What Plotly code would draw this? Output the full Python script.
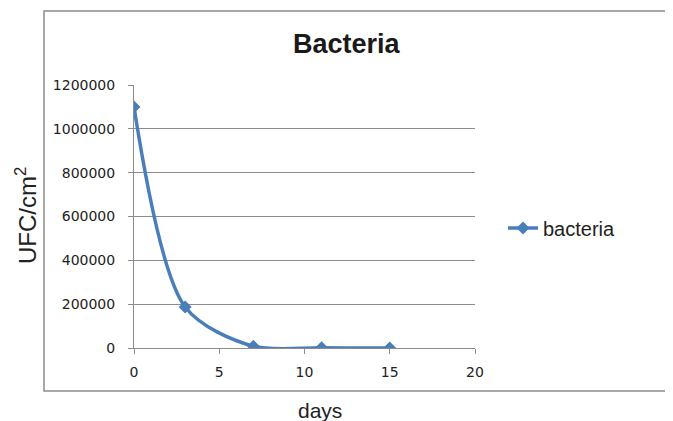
import plotly.graph_objects as go

days = [0, 3, 7, 11, 15]
bacteria = [1100000, 187000, 8000, 1000, 500]
y_ticks = [0, 200000, 400000, 600000, 800000, 1000000, 1200000]
x_ticks = [0, 5, 10, 15, 20]

# page is offset by the default 8px body margin
OFF = 8
W, H = 673 - OFF, 421 - OFF
L, R, T, B = 134, 475, 85, 348   # plot area in page pixels
pw, ph = R - L, B - T

def px(xp):
    return (xp - L) / pw

def py(yp):
    return (B - yp) / ph

FONT = "DejaVu Sans, Liberation Sans, sans-serif"
TXT = "#222"
GRID = "#8c8c8c"

fig = go.Figure()
fig.add_trace(go.Scatter(
    x=days, y=bacteria, name="bacteria", mode="lines+markers",
    line=dict(color="#4a7ebb", width=3.5, shape="spline", smoothing=0.85),
    marker=dict(symbol="diamond", size=10, color="#4a7ebb"),
))

fig.update_layout(
    width=W, height=H,
    margin=dict(l=L - OFF, r=W - (R - OFF), t=T - OFF, b=H - (B - OFF), pad=0),
    paper_bgcolor="white", plot_bgcolor="white",
    font=dict(family=FONT, color=TXT, size=14),
    showlegend=True,
    legend=dict(x=px(503), y=py(228), xanchor="left", yanchor="middle",
                font=dict(family="Liberation Sans, Arial, sans-serif", size=20, color=TXT),
                bgcolor="rgba(0,0,0,0)"),
    annotations=[
        dict(text="<b>Bacteria</b>", x=px(347), y=py(44), xref="paper", yref="paper",
             showarrow=False, font=dict(family="Liberation Sans, Arial, sans-serif", size=27, color="#1a1a1a"),
             xanchor="center", yanchor="middle"),
        dict(text="UFC/cm<sup>2</sup>", x=px(26), y=py(216), xref="paper", yref="paper",
             showarrow=False, textangle=-90,
             font=dict(family="Liberation Sans, Arial, sans-serif", size=24, color=TXT),
             xanchor="center", yanchor="middle"),
        dict(text="days", x=px(320), y=py(410), xref="paper", yref="paper",
             showarrow=False, font=dict(family="Liberation Sans, Arial, sans-serif", size=21, color=TXT),
             xanchor="center", yanchor="middle"),
    ],
    shapes=[
        dict(type="rect", xref="paper", yref="paper",
             x0=px(44), x1=px(700), y0=py(391), y1=py(11),
             line=dict(color=GRID, width=1.5), fillcolor="rgba(0,0,0,0)", layer="below"),
    ],
)

fig.update_xaxes(range=[0, 20], tickvals=x_ticks, showgrid=False, zeroline=False,
                 showline=True, linecolor=GRID, linewidth=1,
                 ticks="outside", ticklen=5, tickcolor=GRID, ticklabelstandoff=6,
                 tickfont=dict(family=FONT, size=14, color=TXT))
fig.update_yaxes(range=[0, 1200000], tickvals=y_ticks, ticktext=[str(v) for v in y_ticks],
                 showgrid=True, gridcolor=GRID, gridwidth=1, zeroline=False,
                 showline=True, linecolor=GRID, linewidth=1,
                 ticks="outside", ticklen=5, tickcolor=GRID, ticklabelstandoff=10,
                 tickfont=dict(family=FONT, size=14, color=TXT))

fig.write_html("out.html")
